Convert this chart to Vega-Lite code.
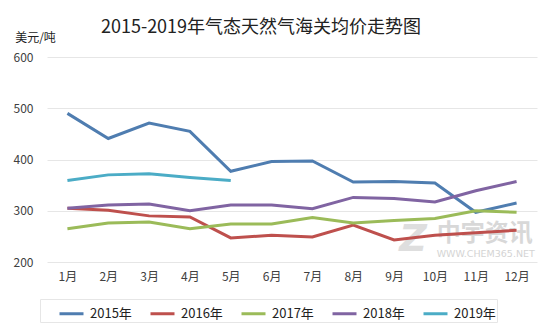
{
  "$schema": "https://vega.github.io/schema/vega-lite/v6.json",
  "width": 490,
  "height": 205,
  "autosize": "none",
  "padding": {"left": 47, "top": 57, "right": 17, "bottom": 70},
  "background": "white",
  "config": {
    "font": "Noto Sans CJK SC",
    "view": {"stroke": null}
  },
  "title": {
    "text": "2015-2019年气态天然气海关均价走势图",
    "fontSize": 18,
    "fontWeight": "normal",
    "color": "#222222",
    "anchor": "middle",
    "frame": "group",
    "dx": -31,
    "dy": 14,
    "offset": 8
  },
  "datasets": {
    "wm": [
      {"month": "11月", "value": 255, "text": "中宇资讯"}
    ],
    "wm2": [
      {"month": "11月", "value": 215, "text": "WWW.CHEM365.NET"}
    ],
    "wm3": [
      {"month": "10月", "value": 243, "text": "Z"}
    ],
    "prices": [
      {"month": "1月", "year": "2015年", "value": 490},
      {"month": "2月", "year": "2015年", "value": 441},
      {"month": "3月", "year": "2015年", "value": 471},
      {"month": "4月", "year": "2015年", "value": 455},
      {"month": "5月", "year": "2015年", "value": 377},
      {"month": "6月", "year": "2015年", "value": 396},
      {"month": "7月", "year": "2015年", "value": 397},
      {"month": "8月", "year": "2015年", "value": 356},
      {"month": "9月", "year": "2015年", "value": 357},
      {"month": "10月", "year": "2015年", "value": 354},
      {"month": "11月", "year": "2015年", "value": 297},
      {"month": "12月", "year": "2015年", "value": 315},
      {"month": "1月", "year": "2016年", "value": 305},
      {"month": "2月", "year": "2016年", "value": 301},
      {"month": "3月", "year": "2016年", "value": 290},
      {"month": "4月", "year": "2016年", "value": 288},
      {"month": "5月", "year": "2016年", "value": 247},
      {"month": "6月", "year": "2016年", "value": 252},
      {"month": "7月", "year": "2016年", "value": 249},
      {"month": "8月", "year": "2016年", "value": 272},
      {"month": "9月", "year": "2016年", "value": 243},
      {"month": "10月", "year": "2016年", "value": 252},
      {"month": "11月", "year": "2016年", "value": 257},
      {"month": "12月", "year": "2016年", "value": 262},
      {"month": "1月", "year": "2017年", "value": 265},
      {"month": "2月", "year": "2017年", "value": 276},
      {"month": "3月", "year": "2017年", "value": 278},
      {"month": "4月", "year": "2017年", "value": 265},
      {"month": "5月", "year": "2017年", "value": 274},
      {"month": "6月", "year": "2017年", "value": 274},
      {"month": "7月", "year": "2017年", "value": 287},
      {"month": "8月", "year": "2017年", "value": 276},
      {"month": "9月", "year": "2017年", "value": 281},
      {"month": "10月", "year": "2017年", "value": 285},
      {"month": "11月", "year": "2017年", "value": 300},
      {"month": "12月", "year": "2017年", "value": 297},
      {"month": "1月", "year": "2018年", "value": 305},
      {"month": "2月", "year": "2018年", "value": 311},
      {"month": "3月", "year": "2018年", "value": 313},
      {"month": "4月", "year": "2018年", "value": 300},
      {"month": "5月", "year": "2018年", "value": 311},
      {"month": "6月", "year": "2018年", "value": 311},
      {"month": "7月", "year": "2018年", "value": 304},
      {"month": "8月", "year": "2018年", "value": 326},
      {"month": "9月", "year": "2018年", "value": 324},
      {"month": "10月", "year": "2018年", "value": 317},
      {"month": "11月", "year": "2018年", "value": 339},
      {"month": "12月", "year": "2018年", "value": 357},
      {"month": "1月", "year": "2019年", "value": 359},
      {"month": "2月", "year": "2019年", "value": 370},
      {"month": "3月", "year": "2019年", "value": 372},
      {"month": "4月", "year": "2019年", "value": 365},
      {"month": "5月", "year": "2019年", "value": 359}
    ]
  },
  "encoding": {
    "x": {
      "field": "month",
      "type": "ordinal",
      "sort": ["1月", "2月", "3月", "4月", "5月", "6月", "7月", "8月", "9月", "10月", "11月", "12月"],
      "scale": {"type": "point", "padding": 0.5},
      "axis": {
        "title": null,
        "labelAngle": 0,
        "domain": false,
        "ticks": false,
        "labelFontSize": 12,
        "labelColor": "#404040",
        "labelPadding": 9
      }
    },
    "y": {
      "field": "value",
      "type": "quantitative",
      "scale": {"domain": [200, 600], "zero": false, "nice": false},
      "axis": {
        "values": [200, 300, 400, 500, 600],
        "domain": false,
        "ticks": false,
        "gridColor": "#e6e6e6",
        "gridWidth": 1,
        "labelFontSize": 12,
        "labelColor": "#404040",
        "labelPadding": 14,
        "title": "美元/吨",
        "titleAngle": 0,
        "titleFontSize": 12,
        "titleFontWeight": "normal",
        "titleColor": "#222222",
        "titleAlign": "center",
        "titleBaseline": "middle",
        "titleX": -12,
        "titleY": -20
      }
    }
  },
  "layer": [
    {
      "data": {"name": "wm3"},
      "mark": {"type": "text", "fontSize": 38, "fontWeight": "bold", "fontStyle": "italic", "font": "DejaVu Sans", "color": "#d6d6d6", "opacity": 0.8, "dx": -22, "align": "center", "baseline": "middle"},
      "encoding": {"text": {"field": "text"}}
    },
    {
      "data": {"name": "wm"},
      "mark": {"type": "text", "fontSize": 24, "fontWeight": "bold", "color": "#cfcfcf", "opacity": 0.8, "dx": 9, "align": "center", "baseline": "middle"},
      "encoding": {"text": {"field": "text"}}
    },
    {
      "data": {"name": "wm2"},
      "mark": {"type": "text", "fontSize": 9.5, "font": "DejaVu Sans", "color": "#d0d0d0", "opacity": 0.9, "dx": 10, "align": "center", "baseline": "middle"},
      "encoding": {"text": {"field": "text"}}
    },
    {
      "data": {"name": "prices"},
      "mark": {"type": "line", "strokeWidth": 3},
      "encoding": {
        "color": {
          "field": "year",
          "type": "nominal",
          "scale": {
            "domain": ["2015年", "2016年", "2017年", "2018年", "2019年"],
            "range": ["#4F7DB0", "#BE504D", "#9BBB59", "#8064A2", "#4BACC6"]
          },
          "legend": {
            "title": null,
            "orient": "none",
            "direction": "horizontal",
            "legendX": -7,
            "legendY": 242,
            "symbolType": "stroke",
            "symbolSize": 576,
            "symbolStrokeWidth": 3,
            "labelFontSize": 13,
            "labelColor": "#222222",
            "labelOffset": 5,
            "columnPadding": -16,
            "strokeColor": "#e6e6e6",
            "padding": 1,
            "symbolOffset": 17
          }
        }
      }
    }
  ]
}
